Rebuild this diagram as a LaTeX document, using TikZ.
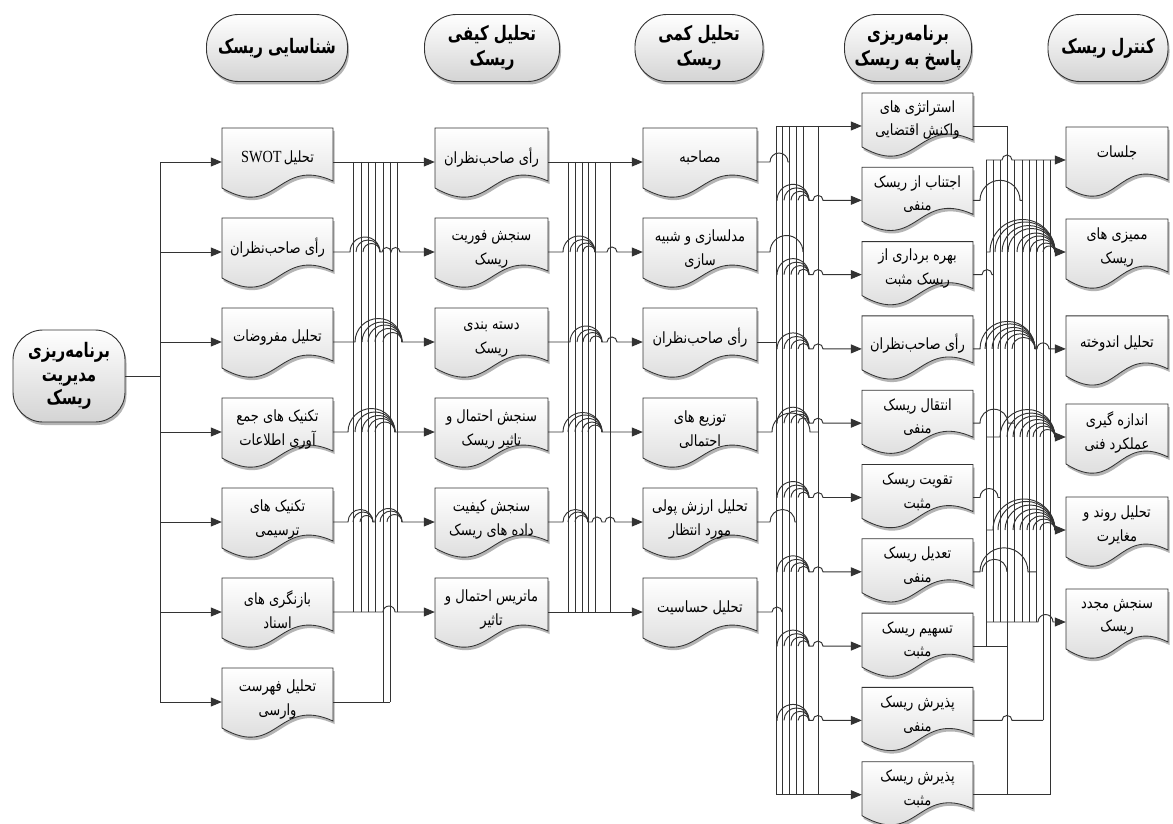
\documentclass[tikz,border=0pt]{standalone}
\usepackage{fontspec}
\usepackage{graphicx}
\usetikzlibrary{arrows.meta,shadows}
\TeXXeTstate=1
\newfontfamily\fa[Script=Arabic]{DejaVu Sans}
\newfontfamily\lserif{Liberation Serif}
\definecolor{linec}{HTML}{333333}
\definecolor{boxbot}{HTML}{D4D4D4}
\definecolor{shadowc}{HTML}{B4B4B4}
\newcommand\RTx[1]{\scalebox{0.84}[1]{\beginR #1\endR}}
\newcommand\HTx[1]{\scalebox{0.75}[1]{\beginR #1\endR}}
\tikzset{
  ln/.style={draw=linec, line width=0.95pt},
  arr/.style={ln, -{Triangle[length=11pt,width=9pt]}},
  anc/.style={rectangle, inner sep=0pt, minimum height=1pt},
  txt/.style={font=\fa\fontsize{15.5}{23.5}\selectfont, align=center, inner sep=0pt},
  hdr/.style={draw=linec, line width=0.9pt, rounded corners=32pt, top color=white, bottom color=boxbot,
    minimum height=67pt, inner sep=0pt, align=center, font=\fa\bfseries\fontsize{20}{25}\selectfont,
    drop shadow={shadow xshift=1.5pt, shadow yshift=-3pt, fill=shadowc, opacity=1}},
}
\newcommand\docbox[8]{%
  \fill[shadowc,shift={(1.5,3)}] (#2,#3) -- (#2+#4,#3) -- (#2+#4,#3+#5-7) .. controls (#2+0.5*#4,#3+#5-32) and (#2+0.5*#4,#3+#5+32) .. (#2,#3+#5) -- cycle;
  \shadedraw[top color=white,bottom color=boxbot,draw=linec,line width=0.85pt] (#2,#3) -- (#2+#4,#3) -- (#2+#4,#3+#5-7) .. controls (#2+0.5*#4,#3+#5-32) and (#2+0.5*#4,#3+#5+32) .. (#2,#3+#5) -- cycle;
  \node[anc,minimum width=#4pt] (#1) at (#2+0.5*#4,#3+#6) {};
  \node[txt] (#1t) at (#2+0.5*#4,#3+#7) {#8};}
\newcommand\nest[3]{\foreach \L in {#3}{\pgfmathsetmacro\rr{(#2-\L)/2}\draw[ln] (\L,#1) arc (180:0:\rr pt);}}
\begin{document}
\begin{tikzpicture}[x=1pt,y=-1pt]
\useasboundingbox (0,0) rectangle (1173,824);
\fill[white] (0,0) rectangle (1173,824);

% headers
\node[hdr,minimum width=141pt] (h1) at (277,48) {\HTx{شناسایی ریسک}};
\node[hdr,minimum width=135pt] (h2) at (492,48) {\HTx{تحلیل کیفی}\\\HTx{ریسک}};
\node[hdr,minimum width=128pt] (h3) at (699,48) {\HTx{تحلیل کمی}\\\HTx{ریسک}};
\node[hdr,minimum width=127pt] (h4) at (908,48) {\HTx{برنامه^^^^200cریزی}\\\HTx{پاسخ به ریسک}};
\node[hdr,minimum width=120pt] (h5) at (1108,48) {\HTx{کنترل ریسک}};
\node[hdr,rounded corners=30pt,minimum width=112pt,minimum height=92pt,font=\fa\bfseries\fontsize{20}{23.5}\selectfont] (root) at (69,376) {\HTx{برنامه^^^^200cریزی}\\\HTx{مدیریت}\\\HTx{ریسک}};

% column 1
\docbox{a1}{222}{128}{111}{60}{34}{30}{\scalebox{0.84}[1]{\beginR تحلیل\,\beginL{\lserif\fontsize{17}{24}\selectfont SWOT}\endL\endR}}
\docbox{a2}{222}{218}{111}{60}{34}{30}{\RTx{رأی صاحب^^^^200cنظران}}
\docbox{a3}{222}{308}{111}{60}{34}{30}{\RTx{تحلیل مفروضات}}
\docbox{a4}{222}{398}{111}{60}{34}{31.5}{\RTx{تکنیک های جمع}\\\RTx{آوری اطلاعات}}
\docbox{a5}{222}{488}{111}{60}{34}{31.5}{\RTx{تکنیک های}\\\RTx{ترسیمی}}
\docbox{a6}{222}{578}{111}{60}{34}{31.5}{\RTx{بازنگری های}\\\RTx{اسناد}}
\docbox{a7}{222}{668}{111}{60}{34}{31.5}{\RTx{تحلیل فهرست}\\\RTx{وارسی}}
% column 2
\docbox{b1}{435}{128}{113}{60}{34}{30}{\RTx{رأی صاحب^^^^200cنظران}}
\docbox{b2}{435}{218}{113}{60}{34}{31.5}{\RTx{سنجش فوریت}\\\RTx{ریسک}}
\docbox{b3}{435}{308}{113}{60}{34}{31.5}{\RTx{دسته بندی}\\\RTx{ریسک}}
\docbox{b4}{435}{398}{113}{60}{34}{31.5}{\RTx{سنجش احتمال و}\\\RTx{تاثیر ریسک}}
\docbox{b5}{435}{488}{113}{60}{34}{31.5}{\RTx{سنجش کیفیت}\\\RTx{داده های ریسک}}
\docbox{b6}{435}{578}{113}{60}{34}{31.5}{\RTx{ماتریس احتمال و}\\\RTx{تاثیر}}
% column 3
\docbox{c1}{643}{128}{114}{60}{34}{30}{\RTx{مصاحبه}}
\docbox{c2}{643}{218}{114}{60}{34}{31.5}{\RTx{مدلسازی و شبیه}\\\RTx{سازی}}
\docbox{c3}{643}{308}{114}{60}{34}{30}{\RTx{رأی صاحب^^^^200cنظران}}
\docbox{c4}{643}{398}{114}{60}{34}{31.5}{\RTx{توزیع های}\\\RTx{احتمالی}}
\docbox{c5}{643}{488}{114}{60}{34}{31.5}{\RTx{تحلیل ارزش پولی}\\\RTx{مورد انتظار}}
\docbox{c6}{643}{578}{114}{60}{34}{30}{\RTx{تحلیل حساسیت}}
% column 4
\docbox{d1}{862}{93}{111}{54}{33}{27}{\RTx{استراتژی های}\\\RTx{واکنش اقتضایی}}
\docbox{d2}{862}{167.3}{111}{54}{33}{27}{\RTx{اجتناب از ریسک}\\\RTx{منفی}}
\docbox{d3}{862}{241.6}{111}{54}{33}{27}{\RTx{بهره برداری از}\\\RTx{ریسک مثبت}}
\docbox{d4}{862}{315.9}{111}{54}{33}{28}{\RTx{رأی صاحب^^^^200cنظران}}
\docbox{d5}{862}{390.2}{111}{54}{33}{27}{\RTx{انتقال ریسک}\\\RTx{منفی}}
\docbox{d6}{862}{464.5}{111}{54}{33}{27}{\RTx{تقویت ریسک}\\\RTx{مثبت}}
\docbox{d7}{862}{538.8}{111}{54}{33}{27}{\RTx{تعدیل ریسک}\\\RTx{منفی}}
\docbox{d8}{862}{613.1}{111}{54}{33}{27}{\RTx{تسهیم ریسک}\\\RTx{مثبت}}
\docbox{d9}{862}{687.4}{111}{54}{33}{27}{\RTx{پذیرش ریسک}\\\RTx{منفی}}
\docbox{d10}{862}{761.7}{111}{54}{33}{27}{\RTx{پذیرش ریسک}\\\RTx{مثبت}}
% column 5
\docbox{e1}{1066}{127}{102}{60}{33}{26}{\RTx{جلسات}}
\docbox{e2}{1066}{219}{102}{60}{33}{28.5}{\RTx{ممیزی های}\\\RTx{ریسک}}
\docbox{e3}{1066}{315.9}{102}{60}{33}{28}{\RTx{تحلیل اندوخته}}
\docbox{e4}{1066}{404}{102}{60}{33}{28.5}{\RTx{اندازه گیری}\\\RTx{عملکرد فنی}}
\docbox{e5}{1066}{497}{102}{60}{33}{28.5}{\RTx{تحلیل روند و}\\\RTx{مغایرت}}
\docbox{e6}{1066}{589}{102}{60}{33}{28.5}{\RTx{سنجش مجدد}\\\RTx{ریسک}}

% root -> column 1
\foreach \k in {1,...,7} \draw[arr] (root.east) -- (160,376) |- (a\k.west);

% bus 1
\foreach \x in {353,361,368,375,397} \draw[ln] (\x,162) -- (\x,612);
\foreach \x in {383,390} \draw[ln] (\x,162) -- (\x,702);
\draw[arr] (a1.east) -- (b1.west);
\draw[arr] (a2.east) -- (350,252) arc (180:0:15pt) -- (382,252) arc (180:0:4.5pt) arc (180:0:4.5pt) -- (b2.west);
\nest{252}{380}{356,363}
\draw[arr] (a3.east) -- (355,342) arc (180:0:23.5pt) -- (b3.west);
\nest{342}{402}{362,368,375,383}
\draw[arr] (a4.east) -- (348,432) arc (180:0:23.5pt) -- (b4.west);
\nest{432}{395}{355,362,368,375}
\draw[arr] (a5.east) -- (348,522) arc (180:0:12.5pt) -- (375,522) arc (180:0:13.5pt) -- (b5.west);
\nest{522}{373}{353,360}
\nest{522}{402}{380,387}
\draw[arr] (a6.east) -- (383,612) arc (180:0:6pt) -- (b6.west);
\draw[ln] (a7.east) -- (390,702);

% bus 2
\foreach \x in {568,575,582,588,595,610} \draw[ln] (\x,162) -- (\x,612);
\draw[arr] (b1.east) -- (c1.west);
\draw[arr] (b2.east) -- (563,252) arc (180:0:16pt) -- (607,252) arc (180:0:5pt) -- (c2.west);
\nest{252}{595}{570,577,583}
\draw[arr] (b3.east) -- (570,342) arc (180:0:16pt) -- (607,342) arc (180:0:5pt) -- (c3.west);
\nest{342}{602}{577,583,590}
\draw[arr] (b4.east) -- (563,432) arc (180:0:19.5pt) -- (c4.west);
\nest{432}{602}{568,575,582,588}
\draw[arr] (b5.east) -- (563,522) arc (180:0:12.5pt) -- (592,522) arc (180:0:5pt) -- (605,522) arc (180:0:5pt) -- (c5.west);
\nest{522}{588}{568,575}
\draw[arr] (b6.east) -- (c6.west);

% bus 3
\foreach \x in {776,782,789,796,803,818} \draw[ln] (\x,126) -- (\x,794.7);
\draw[ln] (c1.east) -- (770,162) arc (180:0:9pt) -- (789,162);
\draw[ln] (c2.east) -- (770,252) arc (180:0:16.5pt) -- (803,252);
\draw[ln] (c3.east) -- (776,342);
\draw[ln] (c4.east) -- (772,432) arc (180:0:19pt) -- (818,432);
\draw[ln] (c5.east) -- (770,522) arc (180:0:12.5pt) -- (796,522);
\draw[ln] (c6.east) -- (772,612) arc (180:0:5pt);
\draw[arr] (776,126) -- (d1.west);
\foreach \k/\y in {2/200.3,3/274.6,4/348.9,5/423.2,6/497.5,7/571.8,8/646.1,9/720.4}{
  \draw[arr] (776,\y) -- (777,\y) arc (180:0:16pt) -- (813,\y) arc (180:0:5pt) -- (d\k.west);
  \nest{\y}{809}{784,791,798}}
\draw[arr] (776,794.7) -- (d10.west);

% bus 4
\draw[ln] (986,160) -- (986,646.1);
\foreach \x in {993,1000,1014,1022,1029,1036} \draw[ln] (\x,160) -- (\x,622);
\draw[ln] (1007,126) -- (1007,794.7);
\draw[ln] (1043,160) -- (1043,720.4);
\draw[ln] (1050,160) -- (1050,794.7);
\draw[ln] (d1.east) -- (1007,126);
\draw[ln] (d2.east) -- (980,200.3) arc (180:0:20pt) -- (1022,200.3);
\draw[ln] (d3.east) -- (982,274.6) arc (180:0:5pt) -- (993,274.6);
\draw[arr] (d4.east) -- (980,348.9) arc (180:0:27.5pt) -- (1037,348.9) arc (180:0:6pt) -- (e3.west);
\nest{348.9}{1035}{985,992,998,1005,1012}
\draw[ln] (d5.east) -- (980,423.2) arc (180:0:14pt) -- (1014,423.2);
\draw[ln] (d6.east) -- (980,497.5) arc (180:0:9pt) -- (1000,497.5);
\draw[ln] (d7.east) -- (980,571.8) arc (180:0:24pt) -- (1036,571.8);
\nest{571.8}{1007}{982}
\draw[ln] (d8.east) -- (1007,646.1);
\draw[ln] (d9.east) -- (1002,720.4) arc (180:0:5pt) -- (1043,720.4);
\draw[ln] (d10.east) -- (1050,794.7);
\draw[arr] (986,160) -- (1002,160) arc (180:0:5pt) -- (e1.west);
\draw[arr] (986,252) -- (990,252) arc (180:0:32.5pt) -- (e2.west);
\nest{252}{1055}{995,1002,1008,1017,1023,1030,1037,1043}
\draw[arr] (986,437) -- (1000,437) arc (180:0:27.5pt) -- (e4.west);
\nest{437}{1055}{1007,1013,1020,1027,1033,1040}
\draw[arr] (986,530) -- (993,530) arc (180:0:31pt) -- (e5.west);
\nest{530}{1055}{998,1005,1013,1020,1027,1033,1040}
\draw[arr] (986,622) -- (1038,622) arc (180:0:7.5pt) -- (e6.west);
\end{tikzpicture}
\end{document}
